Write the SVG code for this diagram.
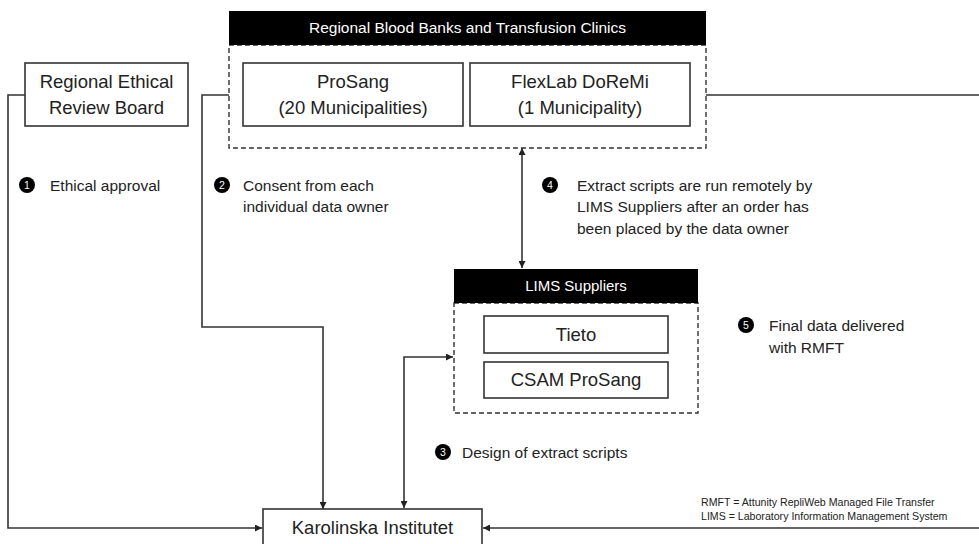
<svg xmlns="http://www.w3.org/2000/svg" width="979" height="544" viewBox="0 0 979 544">
<defs>
<marker id="ah" viewBox="0 0 10 10" refX="10" refY="5" markerWidth="7" markerHeight="7" orient="auto-start-reverse" markerUnits="userSpaceOnUse">
<path d="M0,0 L10,5 L0,10 z" fill="#222"/>
</marker>
<style>
text{font-family:"Liberation Sans",Arial,sans-serif;fill:#222}
.box{fill:#fff;stroke:#333;stroke-width:1.6}
.dash{fill:none;stroke:#333;stroke-width:1.4;stroke-dasharray:5,3}
.hdr{fill:#000}
.ht{fill:#fff;font-size:15.5px;text-anchor:middle}
.ht2{fill:#fff;font-size:15px;text-anchor:middle}
.bt{font-size:18.5px;text-anchor:middle}
.lbl{font-size:15.5px}
.num{fill:#fff;font-size:10.5px;text-anchor:middle}
.conn{fill:none;stroke:#333;stroke-width:1.6}
.note{font-size:10.6px}
</style>
</defs>
<rect width="979" height="544" fill="#fff"/>
<g id="connectors">
<path class="conn" d="M25,95 H8 V528 H262" marker-end="url(#ah)"/>
<path class="conn" d="M229,95 H202 V327 H323 V509" marker-end="url(#ah)"/>
<path class="conn" d="M706,95 H990 V528 H483" marker-end="url(#ah)"/>
<path class="conn" d="M404,508 V357 H453" marker-start="url(#ah)" marker-end="url(#ah)"/>
<path class="conn" d="M522,148 V268" marker-start="url(#ah)" marker-end="url(#ah)"/>
</g>
<g id="ethical-board">
<rect class="box" x="25" y="63" width="163" height="63"/>
<text class="bt" x="106.5" y="88">Regional Ethical</text>
<text class="bt" x="106.5" y="114">Review Board</text>
</g>
<g id="blood-banks">
<rect class="dash" x="229" y="45" width="477" height="103"/>
<rect class="hdr" x="229" y="11" width="477" height="34"/>
<text class="ht" x="467.5" y="33">Regional Blood Banks and Transfusion Clinics</text>
</g>
<g id="prosang">
<rect class="box" x="243" y="63" width="220" height="63"/>
<text class="bt" x="353" y="88">ProSang</text>
<text class="bt" x="353" y="114">(20 Municipalities)</text>
</g>
<g id="flexlab">
<rect class="box" x="470" y="63" width="220" height="63"/>
<text class="bt" x="580" y="88">FlexLab DoReMi</text>
<text class="bt" x="580" y="114">(1 Municipality)</text>
</g>
<g id="lims-suppliers">
<rect class="dash" x="454" y="303" width="244" height="110"/>
<rect class="hdr" x="454" y="269" width="244" height="34"/>
<text class="ht2" x="576" y="291">LIMS Suppliers</text>
</g>
<g id="tieto">
<rect class="box" x="484" y="316" width="184" height="37"/>
<text class="bt" x="576" y="341">Tieto</text>
</g>
<g id="csam">
<rect class="box" x="484" y="362" width="184" height="36"/>
<text class="bt" x="576" y="386">CSAM ProSang</text>
</g>
<g id="karolinska">
<rect class="box" x="263" y="509" width="219" height="45"/>
<text class="bt" x="372.5" y="534">Karolinska Institutet</text>
</g>
<g id="label-1">
<circle cx="27" cy="185" r="8" fill="#000"/>
<text class="num" x="27" y="189">1</text>
<text class="lbl" x="50" y="191">Ethical approval</text>
</g>
<g id="label-2">
<circle cx="222" cy="185" r="8" fill="#000"/>
<text class="num" x="222" y="189">2</text>
<text class="lbl" x="243" y="191">Consent from each</text>
<text class="lbl" x="243" y="212">individual data owner</text>
</g>
<g id="label-4">
<circle cx="550" cy="185" r="8" fill="#000"/>
<text class="num" x="550" y="189">4</text>
<text class="lbl" x="577" y="191">Extract scripts are run remotely by</text>
<text class="lbl" x="577" y="212">LIMS Suppliers after an order has</text>
<text class="lbl" x="577" y="234">been placed by the data owner</text>
</g>
<g id="label-5">
<circle cx="746" cy="325" r="8" fill="#000"/>
<text class="num" x="746" y="329">5</text>
<text class="lbl" x="769" y="331">Final data delivered</text>
<text class="lbl" x="769" y="353">with RMFT</text>
</g>
<g id="label-3">
<circle cx="443" cy="452" r="8" fill="#000"/>
<text class="num" x="443" y="456">3</text>
<text class="lbl" x="462" y="458">Design of extract scripts</text>
</g>
<g id="legend">
<text class="note" x="701" y="506">RMFT = Attunity RepliWeb Managed File Transfer</text>
<text class="note" x="701" y="520">LIMS = Laboratory Information Management System</text>
</g>
</svg>
